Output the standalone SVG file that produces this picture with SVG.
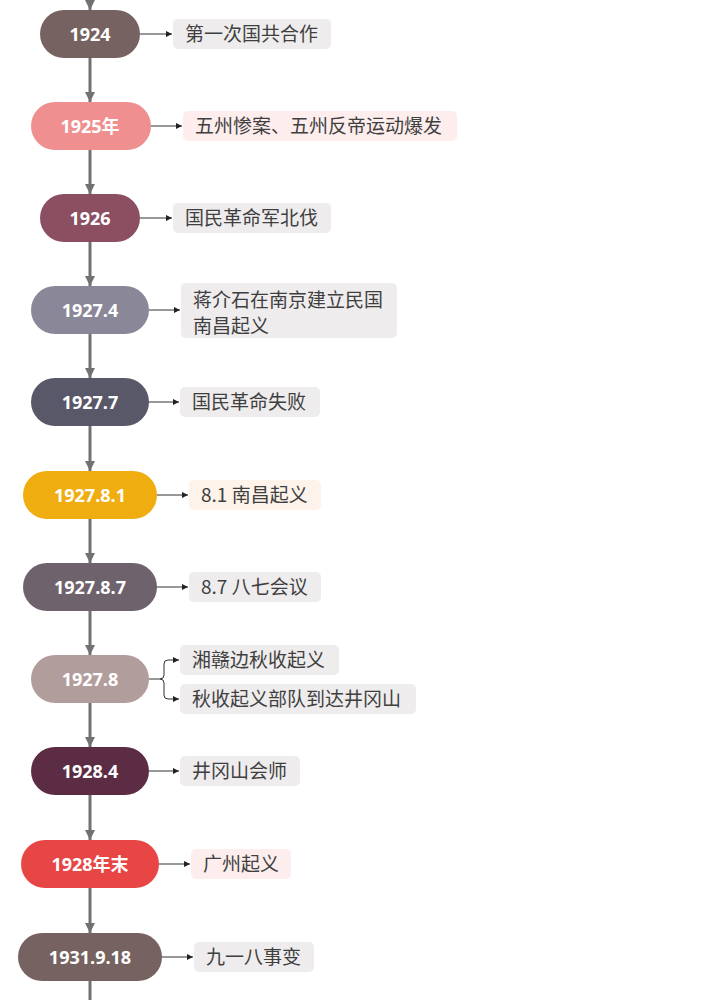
<svg xmlns="http://www.w3.org/2000/svg" width="704" height="1000" viewBox="0 0 704 1000">
<defs>
<style>
.n text{font-family:"Open Sans","Noto Sans CJK SC",sans-serif;font-weight:bold;font-size:18px;fill:#fff;text-anchor:middle;dominant-baseline:central}
.l text{font-family:"Noto Sans CJK SC","Noto Sans",sans-serif;font-size:19px;fill:#3f3f3f}
.g{fill:#eeeced}
.p{fill:#fdeded}
.o{fill:#fdf3ea}
.v{stroke:#717171;stroke-width:3;fill:none}
.h{stroke:#333;stroke-width:1;fill:none}
</style>
<marker id="av" markerUnits="userSpaceOnUse" markerWidth="12" markerHeight="12" refX="10" refY="5" orient="auto"><path d="M0,0 L10,5 L0,10 z" fill="#717171"/></marker>
<marker id="ah" markerUnits="userSpaceOnUse" markerWidth="8" markerHeight="8" refX="6" refY="3" orient="auto"><path d="M0,0 L6,3 L0,6 z" fill="#222"/></marker>
</defs>
<rect width="704" height="1000" fill="#fff"/>
<g id="connectors">
<path class="v" d="M90,0 V10" marker-end="url(#av)"/>
<path class="v" d="M90,58 V102" marker-end="url(#av)"/>
<path class="v" d="M90,150 V194" marker-end="url(#av)"/>
<path class="v" d="M90,242 V286" marker-end="url(#av)"/>
<path class="v" d="M90,334 V378" marker-end="url(#av)"/>
<path class="v" d="M90,426 V471" marker-end="url(#av)"/>
<path class="v" d="M90,519 V563" marker-end="url(#av)"/>
<path class="v" d="M90,611 V655" marker-end="url(#av)"/>
<path class="v" d="M90,703 V747" marker-end="url(#av)"/>
<path class="v" d="M90,795 V840" marker-end="url(#av)"/>
<path class="v" d="M90,888 V933" marker-end="url(#av)"/>
<path class="v" d="M90,981 V1000"/>
<path class="h" d="M140,34 H172" marker-end="url(#ah)"/>
<path class="h" d="M151,126 H182" marker-end="url(#ah)"/>
<path class="h" d="M140,218 H172" marker-end="url(#ah)"/>
<path class="h" d="M149,310 H180" marker-end="url(#ah)"/>
<path class="h" d="M149,402 H179" marker-end="url(#ah)"/>
<path class="h" d="M157,495 H188" marker-end="url(#ah)"/>
<path class="h" d="M157,587 H188" marker-end="url(#ah)"/>
<path class="h" d="M149,679 H160 Q164,679 164,675 V664 Q164,660 168,660 H179" marker-end="url(#ah)"/>
<path class="h" d="M160,679 Q164,679 164,683 V695 Q164,699 168,699 H179" marker-end="url(#ah)"/>
<path class="h" d="M149,771 H179" marker-end="url(#ah)"/>
<path class="h" d="M159,864 H190" marker-end="url(#ah)"/>
<path class="h" d="M162,957 H193" marker-end="url(#ah)"/>
</g>
<g id="n1924" class="n"><rect x="40" y="10" width="100" height="48" rx="24" fill="#766361"/><text x="90" y="34">1924</text></g>
<g id="n1925" class="n"><rect x="31" y="102" width="120" height="48" rx="24" fill="#f08f8f"/><text x="90" y="126">1925年</text></g>
<g id="n1926" class="n"><rect x="40" y="194" width="100" height="48" rx="24" fill="#8b4f61"/><text x="90" y="218">1926</text></g>
<g id="n19274" class="n"><rect x="31" y="286" width="118" height="48" rx="24" fill="#8a8799"/><text x="90" y="310">1927.4</text></g>
<g id="n19277" class="n"><rect x="31" y="378" width="118" height="48" rx="24" fill="#595869"/><text x="90" y="402">1927.7</text></g>
<g id="n192781" class="n"><rect x="23" y="471" width="134" height="48" rx="24" fill="#f0ad10"/><text x="90" y="495">1927.8.1</text></g>
<g id="n192787" class="n"><rect x="23" y="563" width="134" height="48" rx="24" fill="#6e626c"/><text x="90" y="587">1927.8.7</text></g>
<g id="n19278" class="n"><rect x="31" y="655" width="118" height="48" rx="24" fill="#b19d9c"/><text x="90" y="679">1927.8</text></g>
<g id="n19284" class="n"><rect x="31" y="747" width="118" height="48" rx="24" fill="#5c2c45"/><text x="90" y="771">1928.4</text></g>
<g id="n1928m" class="n"><rect x="21" y="840" width="138" height="48" rx="24" fill="#e84545"/><text x="90" y="864">1928年末</text></g>
<g id="n1931" class="n"><rect x="18" y="933" width="144" height="48" rx="24" fill="#766361"/><text x="90" y="957">1931.9.18</text></g>
<g id="l1" class="l"><rect class="g" x="173" y="19" width="158" height="30" rx="5"/><text x="185" y="40.5">第一次国共合作</text></g>
<g id="l2" class="l"><rect class="p" x="183" y="111" width="274" height="30" rx="5"/><text x="195" y="132.5">五州惨案、五州反帝运动爆发</text></g>
<g id="l3" class="l"><rect class="g" x="173" y="203" width="158" height="30" rx="5"/><text x="185" y="224.5">国民革命军北伐</text></g>
<g id="l4" class="l"><rect class="g" x="181" y="283" width="216" height="55" rx="5"/><text x="193" y="306.5">蒋介石在南京建立民国</text><text x="193" y="332.5">南昌起义</text></g>
<g id="l5" class="l"><rect class="g" x="180" y="387" width="140" height="30" rx="5"/><text x="192" y="408.5">国民革命失败</text></g>
<g id="l6" class="l"><rect class="o" x="189" y="480" width="132" height="30" rx="5"/><text x="201" y="501.5">8.1 南昌起义</text></g>
<g id="l7" class="l"><rect class="g" x="189" y="572" width="132" height="30" rx="5"/><text x="201" y="593.5">8.7 八七会议</text></g>
<g id="l8a" class="l"><rect class="g" x="180" y="645" width="159" height="30" rx="5"/><text x="192" y="666.5">湘赣边秋收起义</text></g>
<g id="l8b" class="l"><rect class="g" x="180" y="684" width="236" height="30" rx="5"/><text x="192" y="705.5">秋收起义部队到达井冈山</text></g>
<g id="l9" class="l"><rect class="g" x="180" y="756" width="120" height="30" rx="5"/><text x="192" y="777.5">井冈山会师</text></g>
<g id="l10" class="l"><rect class="p" x="191" y="849" width="100" height="30" rx="5"/><text x="203" y="870.5">广州起义</text></g>
<g id="l11" class="l"><rect class="g" x="194" y="942" width="120" height="30" rx="5"/><text x="206" y="963.5">九一八事变</text></g>
</svg>
